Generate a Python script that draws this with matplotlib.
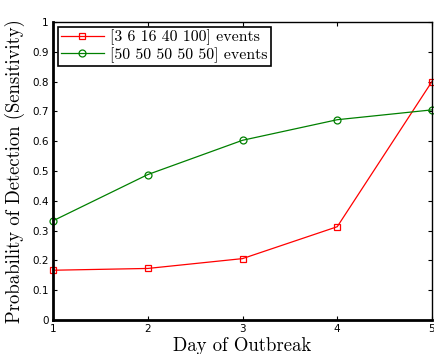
import numpy as np
import matplotlib
matplotlib.use("Agg")
import matplotlib.pyplot as plt

# detection probability by day of outbreak for two event schedules
days = [1, 2, 3, 4, 5]
ramp = [0.167, 0.173, 0.206, 0.313, 0.800]
flat = [0.333, 0.488, 0.603, 0.672, 0.705]
ramp_label = '[3 6 16 40 100] events'
flat_label = '[50 50 50 50 50] events'

fig = plt.figure(figsize=(4.35, 3.54), dpi=100)
ax = fig.add_axes([0.122, 0.096, 0.871, 0.842])

ax.plot(days, ramp, '-s', color='#ff0000', lw=0.9, ms=4.5, mfc='none', mew=0.9, label=ramp_label, clip_on=False)
ax.plot(days, flat, '-o', color='#008000', lw=0.9, ms=5, mfc='none', mew=0.9, label=flat_label, clip_on=False)

ax.set_xlim(1, 5)
ax.set_ylim(0, 1)
ax.set_xticks(days)
ax.set_yticks(np.arange(0, 1.01, 0.1))
ax.set_yticklabels(['0', '0.1', '0.2', '0.3', '0.4', '0.5', '0.6', '0.7', '0.8', '0.9', '1'])
ax.tick_params(direction='in', labelsize=7.5, length=3, width=0.8, top=True, right=True, pad=3)
for s in ['left', 'bottom']:
    ax.spines[s].set_linewidth(2)
for s in ['top', 'right']:
    ax.spines[s].set_linewidth(1)

ax.set_xlabel('Day of Outbreak', fontfamily='cmr10', fontsize=13.5, labelpad=2)
ax.set_ylabel('Probability of Detection (Sensitivity)', fontfamily='cmr10', fontsize=13.5, labelpad=5)

leg = ax.legend(loc='upper left', prop={'family': 'cmr10', 'size': 11.4}, fancybox=False,
                edgecolor='black', framealpha=1, borderpad=0.2, handlelength=2.7,
                handletextpad=0.4, labelspacing=0.1, borderaxespad=0.3)
leg.get_frame().set_linewidth(1.2)

fig.savefig('out.png', dpi=100)
